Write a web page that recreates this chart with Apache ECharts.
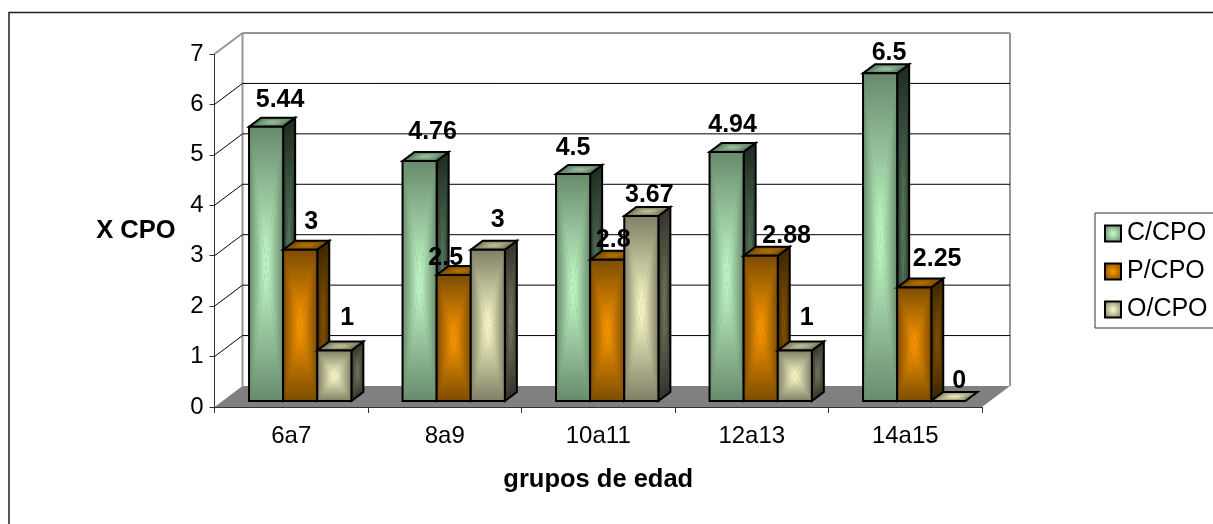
<!DOCTYPE html>
<html><head><meta charset="utf-8">
<style>html,body{margin:0;padding:0;background:#fff}#c{width:1213px;height:524px}</style>
<script src="https://cdn.jsdelivr.net/npm/echarts@6/dist/echarts.min.js"></script>
</head><body><div id="c"></div>
<script>
const categories = ['6a7','8a9','10a11','12a13','14a15'];
const cValues = [5.44,4.76,4.5,4.94,6.5];
const pValues = [3,2.5,2.8,2.88,2.25];
const oValues = [1,3,3.67,1,0];
const yTicks = [0,1,2,3,4,5,6,7];

const FONT = '"Liberation Sans", Arial, sans-serif';
const WALL = {dx:28, dy:21};
const BAR = {dx:12, dy:9, floorLift:6, groupInset:0.225, widthRatio:0.2222};
const palettes = {
  'C/CPO': {front:['#688a6c','#c4fdc9'], top:['#51705a','#a8cfa9'], side:['#1f2d22','#5f8266']},
  'P/CPO': {front:['#7c4c00','#ff9900'], top:['#6e4400','#c47a00'], side:['#3e2600','#8a5500']},
  'O/CPO': {front:['#7f7f66','#ffffcc'], top:['#6f6f58','#cfcfa6'], side:['#33332a','#7a7a62']}
};
const labelShiftC = [[14,-27],[13,-29],[0,-26],[6,-27],[9,-20]];
const labelShiftP = [[11,-28],[-8,-17],[6,-20],[26,-20],[23,-28]];
const labelShiftO = [[13,-32],[10,-30],[8,-21],[12,-32],[11,-20]];

function pyramid(q, stops, z2){
  const cx=(q[0][0]+q[1][0]+q[2][0]+q[3][0])/4, cy=(q[0][1]+q[1][1]+q[2][1]+q[3][1])/4;
  const out=[{type:'polygon',shape:{points:q},style:{fill:stops[0],stroke:null},z2}];
  for(let i=0;i<4;i++){
    const a=q[i],b=q[(i+1)%4],ex=b[0]-a[0],ey=b[1]-a[1];
    const t=((cx-a[0])*ex+(cy-a[1])*ey)/(ex*ex+ey*ey);
    const fx=a[0]+t*ex,fy=a[1]+t*ey;
    out.push({type:'polygon',shape:{points:[a,b,[cx,cy]]},z2,style:{stroke:null,fill:{type:'linear',global:true,x:fx,y:fy,x2:cx,y2:cy,colorStops:[{offset:0,color:stops[0]},{offset:1,color:stops[1]}]}}});
  }
  return out;
}
function outline(q,z2){return {type:'polygon',shape:{points:q},z2,style:{fill:null,stroke:'#000',lineWidth:2,lineJoin:'miter'}};}

function barSeries(name,values,slot,shifts){
  return {
    name, type:'custom', coordinateSystem:'cartesian2d',
    itemStyle:{color:palettes[name].front[0]},
    data:values.map((v,i)=>[i,v]),
    encode:{x:0,y:1},
    renderItem(params,api){
      const i=api.value(0),v=api.value(1),p=palettes[name];
      const band=api.size([1,0])[0];
      const base=api.coord([i,0]),top=api.coord([i,v]);
      const w=band*BAR.widthRatio;
      const x0=base[0]-band/2+band*BAR.groupInset+slot*w,x1=x0+w;
      const y0=base[1]-BAR.floorLift,y1=top[1]-BAR.floorLift;
      const d=BAR,z=10+slot*3;
      const ch=[];
      const topQ=[[x0,y1],[x1,y1],[x1+d.dx,y1-d.dy],[x0+d.dx,y1-d.dy]];
      if(y0-y1>0.5){
        const sideQ=[[x1,y1],[x1+d.dx,y1-d.dy],[x1+d.dx,y0-d.dy],[x1,y0]];
        const frontQ=[[x0,y1],[x1,y1],[x1,y0],[x0,y0]];
        ch.push(...pyramid(sideQ,p.side,z),outline(sideQ,z));
        ch.push(...pyramid(topQ,p.top,z),outline(topQ,z));
        ch.push(...pyramid(frontQ,p.front,z),outline(frontQ,z));
      }else{
        ch.push(...pyramid(topQ,p.front,z),outline(topQ,z));
      }
      const s=shifts[i];
      ch.push({type:'text',z2:100,style:{text:String(v),x:(x0+x1)/2+s[0],y:y1+s[1],align:'center',verticalAlign:'middle',fill:'#000',font:'bold 25px '+FONT}});
      return {type:'group',children:ch};
    }
  };
}

const wallSeries = {
  name:'wall', type:'custom', coordinateSystem:'cartesian2d', silent:true, z:1,
  data:[[0,0]], encode:{x:0,y:1},
  renderItem(params,api){
    const g=params.coordSys, bl=api.coord([0,0])[1], tp=api.coord([0,7])[1];
    const L=g.x,R=g.x+g.width,D=WALL;
    const gray='#969696';
    const ln=(a,b,c,w)=>({type:'line',shape:{x1:a[0],y1:a[1],x2:b[0],y2:b[1]},style:{stroke:c,lineWidth:w}});
    return {type:'group',children:[
      {type:'polygon',shape:{points:[[L,bl],[L+D.dx,bl-D.dy],[R+D.dx,bl-D.dy],[R,bl]]},style:{fill:'#808080'}},
      ln([L+D.dx,tp-D.dy],[R+D.dx,tp-D.dy],gray,2),
      ln([L+D.dx,tp-D.dy],[L+D.dx,bl-D.dy],gray,2),
      ln([R+D.dx,tp-D.dy],[R+D.dx,bl-D.dy],gray,2),
      ln([L,tp],[L+D.dx,tp-D.dy],gray,2)
    ]};
  }
};
const gridSeries = {
  name:'grid', type:'custom', coordinateSystem:'cartesian2d', silent:true, z:1,
  data:yTicks.filter(t=>t>0&&t<7).map(t=>[0,t]), encode:{x:0,y:1},
  renderItem(params,api){
    const g=params.coordSys, y=api.coord([0,api.value(1)])[1], L=g.x,R=g.x+g.width,D=WALL;
    const ln=(a,b)=>({type:'line',shape:{x1:a[0],y1:a[1],x2:b[0],y2:b[1]},style:{stroke:'#000',lineWidth:1}});
    return {type:'group',children:[ln([L,y],[L+D.dx,y-D.dy]),ln([L+D.dx,y-D.dy],[R+D.dx,y-D.dy])]};
  }
};
const swatch = n => ({type:'radial',x:0.5,y:0.5,r:0.6,colorStops:[{offset:0,color:palettes[n].front[1]},{offset:1,color:palettes[n].front[0]}]});

const chart = echarts.init(document.getElementById('c'),null,{renderer:'canvas'});
chart.setOption({
  animation:false, backgroundColor:'#fff',
  textStyle:{fontFamily:FONT,color:'#000'},
  graphic:[{type:'rect',silent:true,z:-1,shape:{x:9,y:12.5,width:1300,height:600},style:{fill:null,stroke:'#222',lineWidth:1.5}}],
  grid:{left:214.5,right:231,top:54,bottom:117,containLabel:false},
  legend:{
    orient:'vertical',left:1095,top:213,padding:[8,40,6,9],itemGap:13,itemWidth:16,itemHeight:16,
    borderColor:'#333',borderWidth:1,icon:'rect',
    textStyle:{fontFamily:FONT,fontSize:25,color:'#000',padding:[0,0,0,1]},
    selectedMode:false,
    data:['C/CPO','P/CPO','O/CPO'].map(n=>({name:n,itemStyle:{color:swatch(n),borderColor:'#000',borderWidth:2}}))
  },
  xAxis:{type:'category',data:categories,boundaryGap:true,
    axisLine:{show:true,onZero:false,lineStyle:{color:'#333',width:1}},
    axisTick:{show:true,alignWithLabel:false,length:6,lineStyle:{color:'#333'}},
    axisLabel:{fontSize:24,margin:17,color:'#000',fontFamily:FONT},
    splitLine:{show:false},
    name:'grupos de edad',nameLocation:'middle',nameGap:60,
    nameTextStyle:{fontFamily:FONT,fontSize:25.5,fontWeight:'bold',color:'#000'}},
  yAxis:{type:'value',min:0,max:7,interval:1,
    axisLine:{show:true,lineStyle:{color:'#333',width:1}},
    axisTick:{show:true,length:5,lineStyle:{color:'#333'}},
    axisLabel:{fontSize:24,margin:11,color:'#000',fontFamily:FONT},
    splitLine:{show:false},
    name:'X CPO',nameLocation:'middle',nameRotate:0,nameGap:39,
    nameTextStyle:{fontFamily:FONT,fontSize:25.5,fontWeight:'bold',color:'#000'}},
  series:[wallSeries,gridSeries,
    barSeries('C/CPO',cValues,0,labelShiftC),
    barSeries('P/CPO',pValues,1,labelShiftP),
    barSeries('O/CPO',oValues,2,labelShiftO)]
});
</script></body></html>
